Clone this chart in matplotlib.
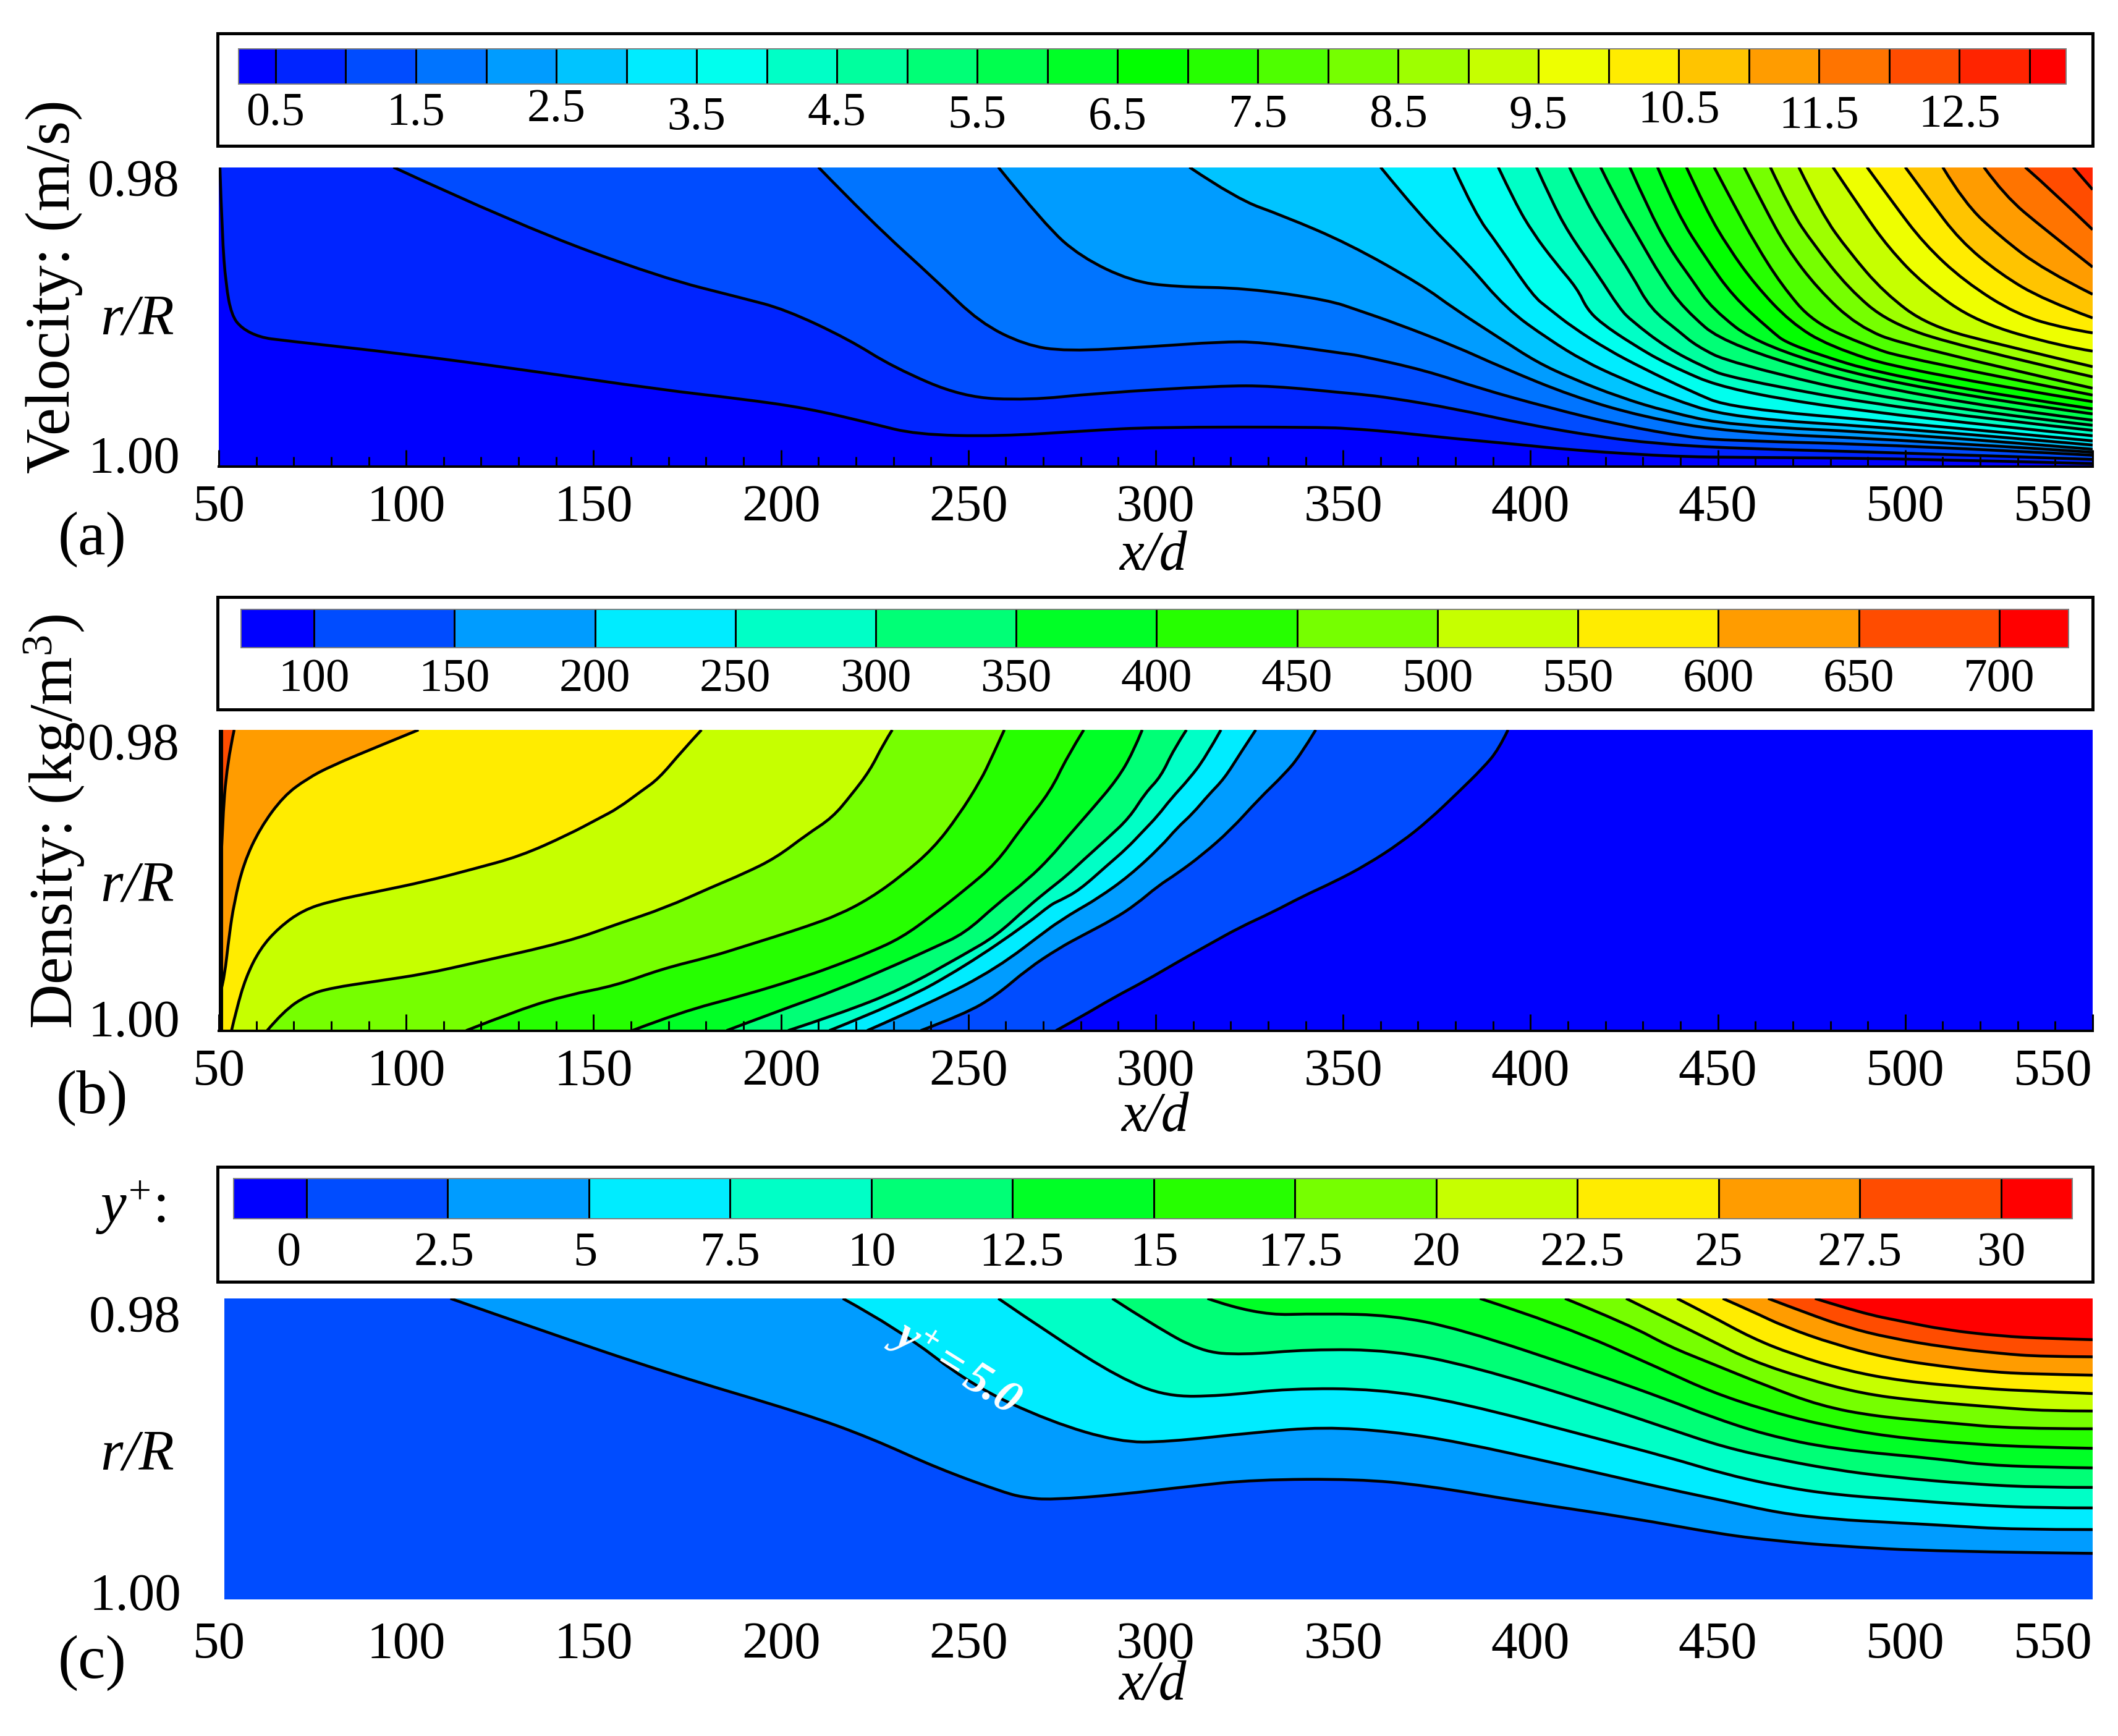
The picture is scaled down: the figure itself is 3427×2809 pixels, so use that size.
import matplotlib
matplotlib.use("Agg")
import matplotlib.pyplot as plt
import numpy as np
from matplotlib.colors import LinearSegmentedColormap, ListedColormap, BoundaryNorm
from matplotlib.patches import PathPatch
from matplotlib.path import Path
from matplotlib.ticker import MultipleLocator
from matplotlib.transforms import ScaledTranslation

plt.rcParams['font.family'] = ['Liberation Serif', 'DejaVu Serif']
plt.rcParams['mathtext.fontset'] = 'custom'
plt.rcParams['mathtext.rm'] = 'Liberation Serif'
plt.rcParams['mathtext.it'] = 'Liberation Serif:italic'
plt.rcParams['mathtext.bf'] = 'Liberation Serif:bold:italic'

# ---- colour bar data ----
vel_levels = [0.5 * k for k in range(1, 27)]
vel_range = [0.236, 13.26]
vel_ticks = [0.5, 1.5, 2.5, 3.5, 4.5, 5.5, 6.5, 7.5, 8.5, 9.5, 10.5, 11.5, 12.5]
rho_levels = [100, 150, 200, 250, 300, 350, 400, 450, 500, 550, 600, 650, 700]
rho_range = [74, 724.7]
yp_levels = [0, 2.5, 5, 7.5, 10, 12.5, 15, 17.5, 20, 22.5, 25, 27.5, 30]
yp_range = [-1.29, 31.26]
yp_tick_labels = ['0', '2.5', '5', '7.5', '10', '12.5', '15', '17.5', '20', '22.5', '25', '27.5', '30']
x_tick_values = [50, 100, 150, 200, 250, 300, 350, 400, 450, 500, 550]

# ---- contour lines: x/d and position p (% of the way from r/R=0.98 to r/R=1.00) ----
# Velocity
v0p5_x = [50.3, 50.9, 51.9, 53.4, 56, 61, 67, 100, 130, 168, 189.6, 207, 224, 236, 258, 282, 299, 344.5, 354.4, 363.9, 378.4, 396, 410.6, 429.5, 442.1, 453.4, 500, 550]
v0p5_p = [0, 23, 39.4, 49.4, 53.8, 56.9, 57.9, 62.5, 67.5, 74.4, 77.5, 80.6, 85.6, 89.4, 90, 88.1, 86.9, 86.9, 87.6, 88.6, 90.6, 92.6, 94.5, 96.1, 96.8, 97, 97.4, 99.1]
v1p0_x = [96.6, 130, 168, 189.6, 201, 218, 230, 248.5, 266, 284, 317, 331, 351.5, 354.4, 362.6, 379.6, 398.6, 417.5, 433.3, 453.4, 500, 550]
v1p0_p = [0, 19.4, 36.9, 43.75, 47.5, 57.5, 66.9, 76.9, 77.9, 75.6, 73.1, 73.1, 75.6, 75.9, 77.1, 80.7, 85.9, 90, 92.4, 94, 95.5, 97.7]
v1p5_x = [210, 224, 241.6, 253, 265, 276, 299, 317, 328, 351.5, 354.4, 372.1, 386, 404.9, 423.8, 442.7, 453.4, 500, 550]
v1p5_p = [0, 18.1, 38.1, 51.9, 59.4, 61.6, 60, 58.4, 58.4, 62.5, 63, 68, 73.8, 80.4, 86.2, 90.4, 91.4, 93, 96.3]
v2p0_x = [258, 270.5, 280, 293.5, 305, 324, 346, 354.4, 363.9, 379.6, 392.3, 411.2, 430.1, 453.4, 500, 550]
v2p0_p = [0, 19.4, 30, 38.1, 40, 40.4, 44.4, 48, 52.1, 59.7, 66.9, 76.6, 83.5, 88.7, 91.2, 95.3]
v2p5_x = [309, 321.5, 334, 351.5, 371, 379.6, 392.3, 401.7, 411.2, 423.8, 436.4, 453.4, 500, 550]
v2p5_p = [0, 10.6, 16.25, 25.6, 39.4, 47.3, 57.6, 65.2, 70.7, 76.9, 81.7, 86.4, 89.1, 94.3]
v3p0_x = [360, 371, 383, 393.5, 404.9, 414.4, 423.8, 436.4, 453.4, 500, 550]
v3p0_p = [0, 16.9, 31.9, 47.3, 57.6, 64.9, 70.4, 76.9, 83.8, 87.4, 92.9]
v3p5_x = [379.5, 385.2, 391.2, 400.6, 404.9, 411.2, 420.7, 430.1, 442.7, 453.4, 500, 550]
v3p5_p = [0, 15.6, 25.6, 43, 47.3, 53.5, 61.1, 67.3, 74.9, 80.5, 85.6, 91.5]
v4p0_x = [391.4, 395.9, 400.6, 406.6, 412.5, 415, 418.8, 427, 436.4, 453.4, 500, 550]
v4p0_p = [0, 11.9, 21.9, 31.9, 40.6, 47.3, 52.1, 59, 65.9, 75, 83.6, 89.8]
v4p5_x = [401.6, 405.4, 410.1, 418, 423.8, 427, 436.4, 445.9, 453.4, 500, 550]
v4p5_p = [0, 10.6, 21.9, 36, 47.3, 51.4, 60.4, 66.6, 70.5, 81.2, 88]
v5p0_x = [410.4, 415, 421, 427, 432, 439.6, 444.3, 453.4, 500, 550]
v5p0_p = [0, 12, 24.5, 36, 47.3, 54.9, 59.8, 65.5, 79.1, 86.3]
v5p5_x = [418.7, 423, 429, 435, 440.9, 452.4, 500, 550]
v5p5_p = [0, 11, 24, 37, 47.3, 59.8, 76.7, 84.6]
v6p0_x = [426.5, 431.5, 437, 443, 448.4, 461.2, 500, 550]
v6p0_p = [0, 14, 27, 37.5, 47.3, 59.8, 73.9, 82.5]
v6p5_x = [433.9, 439.2, 446.9, 454, 463.5, 469.3, 500, 550]
v6p5_p = [0, 15.6, 30.6, 43.1, 54, 59.8, 71.5, 80.8]
v7p0_x = [441.6, 446.9, 452.8, 460, 469.4, 479.6, 500, 550]
v7p0_p = [0, 14.4, 26.9, 39.4, 51.9, 59.8, 68.1, 78.4]
v7p5_x = [449, 454, 460, 467, 475.4, 489.9, 500, 550]
v7p5_p = [0, 11.9, 25.6, 39.4, 51.9, 59.8, 63.9, 76.2]
v8p0_x = [457, 462.3, 468.3, 476.6, 487.2, 500.2, 550]
v8p0_p = [0, 13.1, 26.9, 40.6, 53.1, 59.8, 73.9]
v8p5_x = [464, 469.4, 475.4, 484.9, 495.5, 514.2, 550]
v8p5_p = [0, 14.4, 25.6, 40.6, 51.9, 59.8, 70.1]
v9p0_x = [471.6, 477.7, 484.9, 494.3, 506.2, 526.7, 550]
v9p0_p = [0, 15.6, 28.1, 41.9, 53.1, 59.8, 66.7]
v9p5_x = [480.7, 488.4, 495.5, 505, 519.2, 541.4, 550]
v9p5_p = [0, 14.4, 26.9, 39.4, 51.9, 59.8, 61.5]
v10p0_x = [489.8, 496.7, 505, 515.7, 529.9, 543, 550]
v10p0_p = [0, 11.9, 25.6, 38.1, 49.4, 54, 55.4]
v10p5_x = [500, 506.2, 514.5, 525.2, 537, 550]
v10p5_p = [0, 10.6, 24.4, 35.6, 44.4, 50.4]
v11p0_x = [510, 515.7, 525.2, 537, 550]
v11p0_p = [0, 11.9, 23.1, 34.4, 42.5]
v11p5_x = [521, 526.4, 537, 550]
v11p5_p = [0, 9.4, 20.6, 33.4]
v12p0_x = [532, 539.4, 550]
v12p0_p = [0, 8.1, 20.9]
v12p5_x = [544.8, 550]
v12p5_p = [0, 7.5]

# Density
d100_x = [394, 391.5, 387.3, 380.5, 373, 365.4, 356.1, 347.7, 339.3, 330.9, 322.5, 314, 305.7, 297.2, 288.8, 280.4, 273.4]
d100_p = [0, 6.5, 12.7, 21, 29.9, 37.5, 45, 50.5, 55.3, 60.8, 65.6, 71.5, 77.3, 83.5, 89, 95.2, 100]
d150_x = [342.7, 338.5, 334.3, 327.5, 320, 312.4, 305.7, 300.6, 294.7, 288.8, 280.4, 274.3, 265.9, 257.5, 249, 237.3]
d150_p = [0, 8.6, 14.8, 23, 33.3, 41.6, 47.8, 51.9, 58.1, 62.9, 68.4, 72.5, 79.4, 88.3, 94.5, 100]
d200_x = [326.7, 322.5, 318.3, 314.1, 309.9, 305.7, 301.4, 293, 284.6, 277.9, 274.5, 272, 257.5, 240.6, 223]
d200_p = [0, 7.9, 16.2, 21.6, 27.8, 32.6, 38.8, 48.5, 56, 60.8, 63.6, 65.6, 79.4, 90.4, 100]
d250_x = [317.4, 313.2, 309, 304, 300.6, 296.4, 292.2, 287.1, 279.6, 274.5, 272, 265.9, 249, 232.2, 212.9]
d250_p = [0, 9.3, 16.2, 23, 28.5, 34, 39.5, 45, 53.3, 56.7, 58.1, 64.3, 78.7, 90.4, 100]
d300_x = [308.2, 304.8, 301.4, 297.2, 293, 287.1, 280.4, 276.2, 272, 265.9, 257.5, 249, 232.2, 215.4, 201.9]
d300_p = [0, 6.5, 15.5, 21, 29.2, 36.1, 43.6, 48.5, 52.6, 58.8, 68.4, 74.6, 86.3, 94.5, 100]
d350_x = [296.4, 293.9, 289.7, 282.9, 276.2, 272, 265.9, 257.5, 249, 240.6, 232.2, 215.4, 198.6, 185.5]
d350_p = [0, 7.6, 16.5, 26.5, 36, 42.3, 49.8, 58.1, 67.7, 72.5, 77.3, 86.3, 93.8, 100]
d400_x = [280.8, 276.2, 272, 264.2, 257.5, 249, 240.6, 232.2, 223.8, 215.4, 207, 190.1, 173.3, 160.3]
d400_p = [0, 9.3, 20.3, 32.6, 44.3, 53.3, 61.5, 69.1, 73.9, 78, 81.8, 88.3, 93.8, 100]
d450_x = [259.6, 256.2, 253.3, 247.4, 240.6, 232.2, 223.8, 215.4, 207, 198.6, 190.1, 181.7, 168.2, 156, 143, 130.4, 116]
d450_p = [0, 9.3, 16.8, 28.5, 39.5, 48.5, 56, 61.5, 65.3, 68.7, 72, 75.3, 79.5, 85, 88.2, 92.9, 100]
d500_x = [229.7, 227.2, 223.8, 218.8, 213.7, 207, 198.6, 190.1, 181.7, 169.1, 156.5, 143, 117.8, 105.2, 92.5, 80, 73.6, 67.3, 62.9]
d500_p = [0, 5, 13.4, 21.6, 29.2, 34.7, 42.6, 47.8, 52.2, 59.2, 64.5, 70.5, 77.6, 81.1, 83.5, 85.8, 88.2, 93.5, 100]
d550_x = [178.8, 173.7, 167.4, 162.8, 156.5, 151.8, 143, 130.4, 117.8, 105.2, 92.5, 80, 72.4, 66, 61, 57.2, 54.7, 53.4]
d550_p = [0, 6.9, 16.2, 20.3, 26.1, 29.2, 35, 42, 46.3, 50.4, 53.7, 56.9, 60, 65.8, 72.8, 82.3, 93, 100]
d600_x = [103.3, 92.5, 80, 73.6, 67.3, 61, 56.6, 54.1, 52.8, 51.5, 50.7]
d600_p = [0, 5.5, 12, 16.2, 22, 32.7, 44.5, 57.5, 68, 82.3, 86]
d650_x = [54.1, 52.2, 50.9, 50.3]
d650_p = [0, 11, 32, 53]
d_wall_x = [50.5, 50.5]
d_wall_p = [0, 100]

# y+
y2p5_x = [111.8, 134.6, 170.4, 206.2, 224, 241.9, 259.8, 265.2, 272, 290.2, 308.3, 326.5, 353.8, 371.9, 399.2, 426.4, 451.6, 466.3, 481, 508.2, 550]
y2p5_p = [0, 10, 25.1, 38.3, 46.4, 56.5, 64.6, 66.2, 66.9, 65.2, 62.5, 60.2, 60, 62.1, 67.8, 72.8, 78.5, 80.6, 82.2, 84.1, 84.7]
y5p0_x = [216.5, 231.2, 250.9, 272, 290.2, 302.9, 326.5, 344.7, 362.9, 381, 408.3, 436.9, 451.6, 466.3, 481, 495.8, 510.5, 528.9, 550]
y5p0_p = [0, 10, 28.9, 41, 47.7, 47.7, 44.5, 42.7, 44.2, 47.7, 55.2, 63.4, 67.2, 71.3, 73.4, 74.4, 75.4, 76.8, 76.8]
y7p5_x = [258, 272, 290.2, 302.9, 317.4, 335.6, 359.2, 381, 417.4, 436.9, 451.6, 466.3, 481, 499.5, 517.9, 536, 550]
y7p5_p = [0, 12, 26.3, 32.6, 32.4, 29.9, 30.1, 34.5, 46.4, 52.8, 58.3, 62.4, 65.2, 66.9, 68.6, 69.6, 69.6]
y10_x = [288.4, 299.3, 312, 322.9, 341, 362.9, 384.7, 417.4, 436.9, 451.6, 466.3, 481, 495.8, 517.9, 536.3, 550]
y10_p = [0, 8.8, 17.6, 18.8, 16.9, 17.2, 22.6, 35.1, 43.3, 49.4, 53.5, 56.9, 59.3, 61.7, 62.8, 62.8]
y12p5_x = [313.8, 326.5, 344.7, 362.9, 381, 417.4, 436.9, 447.9, 462.7, 481, 510.5, 520, 537, 550]
y12p5_p = [0, 5.6, 5, 5.6, 10, 25.1, 33.8, 39.2, 45.3, 50.1, 53.5, 55.2, 56.1, 56.3]
y15_x = [386.5, 408.3, 435.5, 447.9, 462.7, 477.4, 495.8, 517.9, 534, 550]
y15_p = [0, 8.8, 23.8, 30.9, 37.1, 41.9, 46, 48.4, 49.4, 49.8]
y17p5_x = [409.2, 426.4, 436.9, 447.9, 462.7, 477.4, 492.1, 510.5, 528.9, 550]
y17p5_p = [0, 8.8, 15.9, 21.4, 28.9, 35.7, 39.2, 41.2, 43.3, 43.3]
y20_x = [425.5, 436.9, 447.9, 459, 473.7, 488.4, 503.1, 523.7, 537.7, 550]
y20_p = [0, 7, 13.8, 20.7, 26.8, 31.6, 34, 36.1, 37.4, 37.4]
y22p5_x = [439.1, 447.9, 459, 470, 484.7, 499.5, 517.9, 529.6, 550]
y22p5_p = [0, 5.6, 13.1, 18.6, 24.1, 27.5, 29.6, 30.6, 31.6]
y25_x = [451.3, 459, 467.8, 481, 495.8, 510.5, 523, 533.3, 550]
y25_p = [0, 4.2, 9.4, 15.2, 20, 22.7, 24.4, 25.1, 25.5]
y27p5_x = [463.4, 473.7, 484.7, 495.8, 510.5, 525.2, 536.3, 550]
y27p5_p = [0, 4.9, 9.7, 13.1, 16.2, 18.3, 19.3, 19.4]
y30_x = [475.9, 488.4, 499.5, 510.5, 525.2, 537.7, 550]
y30_p = [0, 4.9, 7.7, 10.4, 12.5, 13.3, 13.7]

vel_lines = [(v0p5_x, v0p5_p), (v1p0_x, v1p0_p), (v1p5_x, v1p5_p), (v2p0_x, v2p0_p), (v2p5_x, v2p5_p),
             (v3p0_x, v3p0_p), (v3p5_x, v3p5_p), (v4p0_x, v4p0_p), (v4p5_x, v4p5_p), (v5p0_x, v5p0_p),
             (v5p5_x, v5p5_p), (v6p0_x, v6p0_p), (v6p5_x, v6p5_p), (v7p0_x, v7p0_p), (v7p5_x, v7p5_p),
             (v8p0_x, v8p0_p), (v8p5_x, v8p5_p), (v9p0_x, v9p0_p), (v9p5_x, v9p5_p), (v10p0_x, v10p0_p),
             (v10p5_x, v10p5_p), (v11p0_x, v11p0_p), (v11p5_x, v11p5_p), (v12p0_x, v12p0_p), (v12p5_x, v12p5_p)]
rho_lines = [(d100_x, d100_p), (d150_x, d150_p), (d200_x, d200_p), (d250_x, d250_p), (d300_x, d300_p),
             (d350_x, d350_p), (d400_x, d400_p), (d450_x, d450_p), (d500_x, d500_p), (d550_x, d550_p),
             (d600_x, d600_p), (d650_x, d650_p)]
yp_lines = [(y2p5_x, y2p5_p), (y5p0_x, y5p0_p), (y7p5_x, y7p5_p), (y10_x, y10_p), (y12p5_x, y12p5_p),
            (y15_x, y15_p), (y17p5_x, y17p5_p), (y20_x, y20_p), (y22p5_x, y22p5_p), (y25_x, y25_p),
            (y27p5_x, y27p5_p), (y30_x, y30_p)]

# ---- figure helpers (pixel layout) ----
W, H = 3428, 2809
DPI = 300
PX = 72 / DPI
fig = plt.figure(figsize=(W / DPI, H / DPI), dpi=DPI, facecolor='white')
rainbow = LinearSegmentedColormap.from_list('rainbow5', ['#0000ff', '#00ffff', '#00ff00', '#ffff00', '#ff0000'])


def axes_px(left, top, right, bottom, **kw):
    return fig.add_axes([left / W, 1 - bottom / H, (right - left) / W, (bottom - top) / H], **kw)


def text_px(x, y, s, **kw):
    kw.setdefault('ha', 'center')
    kw.setdefault('va', 'center')
    return fig.text(x / W, 1 - y / H, s, **kw)


def to_r(p):
    return 0.98 + 0.02 * np.asarray(p, dtype=float) / 100


def band_colors(n):
    return [rainbow(i / (n - 1)) for i in range(n)]


def curve_through(xs, ps):
    """Path vertices/codes with the read points as quadratic control points."""
    pts = np.column_stack([xs, to_r(ps)])
    verts = [pts[0]]
    codes = [Path.MOVETO]
    for i in range(1, len(pts) - 1):
        end = pts[i + 1] if i == len(pts) - 2 else 0.5 * (pts[i] + pts[i + 1])
        verts += [pts[i], end]
        codes += [Path.CURVE3, Path.CURVE3]
    if len(pts) == 2:
        verts.append(pts[1])
        codes.append(Path.LINETO)
    return verts, codes


def legend_bar(box, bar, levels, rng, ticks, labels, size, pad, dx=None, dy=None):
    frame = axes_px(*box)
    frame.set_xticks([])
    frame.set_yticks([])
    for s in frame.spines.values():
        s.set_linewidth(5 * PX)
    ax = axes_px(*bar)
    bounds = [rng[0]] + list(levels) + [rng[1]]
    colors = band_colors(len(bounds) - 1)
    norm = BoundaryNorm(bounds, len(colors))
    mids = 0.5 * (np.array(bounds[:-1]) + np.array(bounds[1:]))
    ax.pcolormesh(bounds, [0, 1], mids[None, :], cmap=ListedColormap(colors), norm=norm)
    ax.vlines(levels, 0, 1, color='black', lw=3 * PX)
    ax.set_xlim(rng)
    ax.set_ylim(0, 1)
    ax.set_yticks([])
    ax.set_xticks(ticks)
    ax.set_xticklabels(labels, fontsize=size)
    ax.tick_params(axis='x', length=0, pad=pad * PX)
    labs = ax.get_xticklabels()
    for k, lab in enumerate(labs):
        ox = dx[k] if dx else 0
        oy = dy[k] if dy else 0
        if ox or oy:
            lab.set_transform(lab.get_transform() + ScaledTranslation(ox / DPI, -oy / DPI, fig.dpi_scale_trans))
    for s in ax.spines.values():
        s.set_linewidth(2 * PX)
        s.set_color('#808080')


def contour_panel(pos, lines, levels_n, base_band, close_x, close_p, xmin, show_ticks,
                  label_offsets, xlabel_xy, xlabel_pad):
    ax = axes_px(*pos)
    colors = band_colors(levels_n)
    ax.set_xlim(50, 550)
    ax.set_ylim(1.00, 0.98)
    ax.fill([xmin, 550, 550, xmin], to_r([0, 0, 100, 100]), color=colors[base_band], lw=0, zorder=1)
    for i, (xs, ps) in enumerate(lines):
        verts, codes = curve_through(xs, ps)
        verts = list(verts) + [(cx, to_r(cp)) for cx, cp in zip(close_x, close_p)] + [verts[0]]
        codes = list(codes) + [Path.LINETO] * len(close_x) + [Path.CLOSEPOLY]
        ax.add_patch(PathPatch(Path(verts, codes), facecolor=colors[base_band + 1 + i], lw=0,
                               zorder=1 + 0.01 * i))
    for xs, ps in lines:
        verts, codes = curve_through(xs, ps)
        ax.add_patch(PathPatch(Path(verts, codes), facecolor='none', edgecolor='black',
                               lw=4.6 * PX, zorder=3, joinstyle='round'))
    ax.set_xticks(x_tick_values)
    ax.set_xticklabels([str(v) for v in x_tick_values], fontsize=20.4)
    ax.set_yticks([0.98, 1.00])
    ax.set_yticklabels(['0.98', '1.00'], fontsize=20.4)
    for s in ['top', 'left', 'right']:
        ax.spines[s].set_visible(False)
    ax.set_axisbelow(False)
    if show_ticks:
        ax.xaxis.set_minor_locator(MultipleLocator(10))
        ax.tick_params(axis='x', which='major', direction='in', length=27 * PX, width=3 * PX, pad=xlabel_pad * PX)
        ax.tick_params(axis='x', which='minor', direction='in', length=16 * PX, width=3 * PX)
        ax.spines['bottom'].set_linewidth(4 * PX)
    else:
        ax.spines['bottom'].set_visible(False)
        ax.tick_params(axis='x', which='both', length=0, pad=xlabel_pad * PX)
    ax.tick_params(axis='y', length=0, pad=(pos[0] - label_offsets[2]) * PX)
    for lab, dy in zip(ax.get_yticklabels(), label_offsets[:2]):
        lab.set_transform(lab.get_transform() + ScaledTranslation(0, -dy / DPI, fig.dpi_scale_trans))
    ax.get_xticklabels()[-1].set_ha('right')
    ax.set_xlabel('x/d', style='italic', fontsize=21.5, va='center', ha='center')
    ax.xaxis.set_label_coords(xlabel_xy[0] / W, 1 - xlabel_xy[1] / H, transform=fig.transFigure)
    return ax


# ---- panels ----
legend_bar((352, 54, 3386, 236), (386, 79, 3343, 136), vel_levels, vel_range, vel_ticks,
           [str(v) for v in vel_ticks], 18.2, 16,
           dy=[-3, -3, -9, 4, -3, 1, 4, 0, 0, 2, -7, 2, 0])
legend_bar((352, 966, 3386, 1148), (390, 986, 3347, 1048), rho_levels, rho_range, rho_levels,
           [str(v) for v in rho_levels], 18.5, 17)
legend_bar((352, 1888, 3386, 2074), (378, 1907, 3353, 1972), yp_levels, yp_range, yp_levels,
           yp_tick_labels, 18.8, 20,
           dx=[-28, -6, -6, 0, 0, 14, 0, 8, 0, 8, 0, 0, 0])

ax_a = contour_panel((354, 270.5, 3386, 754.5), vel_lines, 27, 0, [550], [0], 50, True,
                     (17.5, -18.5, 291), (1866, 900), 30)
ax_a.set_ylabel('Velocity: (m/s)', fontsize=24.3, ha='center', va='center')
ax_a.yaxis.set_label_coords(88 / W, 1 - 464 / H, transform=fig.transFigure)

ax_b = contour_panel((354, 1181, 3386, 1667.6), rho_lines, 14, 0, [50, 50], [100, 0], 50, True,
                     (19, -20, 291), (1869, 1808), 29)
ax_b.plot(d_wall_x, to_r(d_wall_p), color='black', lw=8 * PX, zorder=3, solid_capstyle='butt')
ax_b.set_ylabel('Density: (kg/m$^{3}$)', fontsize=24, ha='center', va='center')
ax_b.yaxis.set_label_coords(88 / W, 1 - 1329 / H, transform=fig.transFigure)

ax_c = contour_panel((354, 2101, 3386, 2588), yp_lines, 14, 1, [550], [0], 51.5, False,
                     (24, -13, 293), (1865, 2728), 36)
text_px(1545, 2214, r'$\mathbf{y^{+}{=}5.0}$', color='white', fontsize=18,
        rotation=-32, rotation_mode='anchor', zorder=10)

for y, lab, tag_y in [(518, '(a)', 873), (1435, '(b)', 1777), (2355, '(c)', 2691)]:
    text_px(222, y, 'r/R', style='italic', fontsize=22.5)
    text_px(149, tag_y, lab, fontsize=24)
text_px(211, 1954, r'$y^{+}$:', fontsize=22.5)

fig.savefig('out.png', dpi=DPI, facecolor='white')
